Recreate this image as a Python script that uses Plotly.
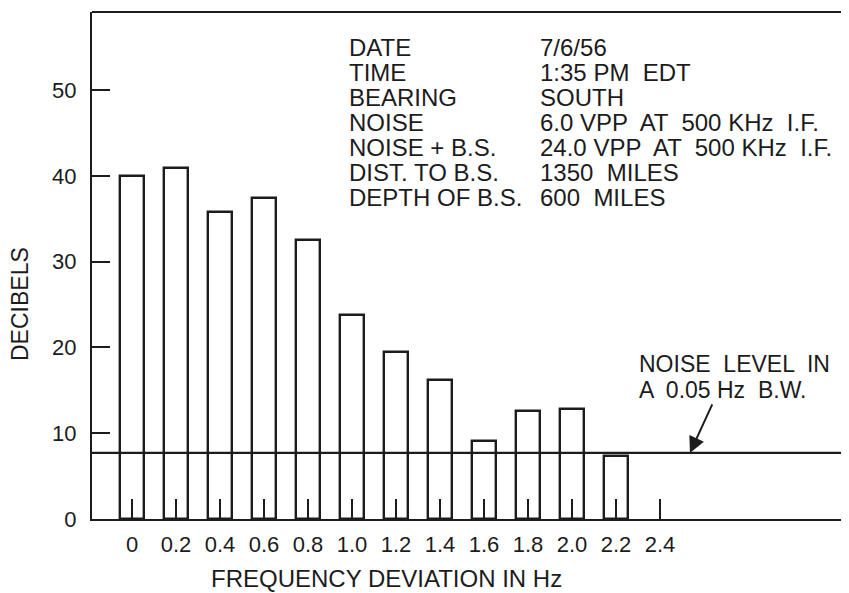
import plotly.graph_objects as go

# ---- data ----
freq_hz = [0.0, 0.2, 0.4, 0.6, 0.8, 1.0, 1.2, 1.4, 1.6, 1.8, 2.0, 2.2]
decibels = [40.0, 40.9, 35.8, 37.4, 32.5, 23.8, 19.5, 16.2, 9.1, 12.6, 12.8, 7.4]
noise_level_db = 7.7
x_tick_vals = [0.0, 0.2, 0.4, 0.6, 0.8, 1.0, 1.2, 1.4, 1.6, 1.8, 2.0, 2.2, 2.4]
x_tick_text = ["0", "0.2", "0.4", "0.6", "0.8", "1.0", "1.2", "1.4", "1.6", "1.8", "2.0", "2.2", "2.4"]
y_tick_vals = [0, 10, 20, 30, 40, 50]
info_labels = ["DATE", "TIME", "BEARING", "NOISE", "NOISE + B.S.", "DIST. TO B.S.", "DEPTH OF B.S."]
info_values = ["7/6/56", "1:35 PM  EDT", "SOUTH", "6.0 VPP  AT  500 KHz  I.F.",
               "24.0 VPP  AT  500 KHz  I.F.", "1350  MILES", "600  MILES"]

INK = "#1c1c1c"
FONT = "Liberation Sans"

# page body has an 8px default margin; compensate so the figure fills the 849x593 window
OFF = 8
W, H = 849 - OFF, 593 - OFF
ML, MR, MT, MB = 92 - OFF, 0, 12 - OFF, 593 - 519
PW, PH = W - ML - MR, H - MT - MB


def px(xw):
    """window x pixel -> paper x"""
    return (xw - OFF - ML) / PW


def py(yw):
    """window y pixel -> paper y"""
    return (H - MB - (yw - OFF)) / PH


fig = go.Figure()
fig.add_trace(go.Bar(
    x=freq_hz, y=decibels, width=0.105,
    marker=dict(color="white", line=dict(color=INK, width=2.4)),
    showlegend=False, hoverinfo="skip",
))

fig.update_layout(
    width=W, height=H,
    margin=dict(l=ML, r=MR, t=MT, b=MB),
    paper_bgcolor="white", plot_bgcolor="white",
    font=dict(family=FONT, color=INK, size=22),
    bargap=0,
    xaxis=dict(
        range=[-0.182, 3.259], tickvals=x_tick_vals, ticktext=x_tick_text,
        ticks="inside", ticklen=20, tickwidth=2, tickcolor=INK,
        showline=True, linecolor=INK, linewidth=2.2,
        showgrid=False, zeroline=False,
        tickfont=dict(size=22, family=FONT, color=INK),
        ticklabelstandoff=4,
    ),
    yaxis=dict(
        range=[0, 59.1], tickvals=y_tick_vals,
        ticks="inside", ticklen=18, tickwidth=2, tickcolor=INK,
        showline=True, linecolor=INK, linewidth=2.2,
        showgrid=False, zeroline=False,
        tickfont=dict(size=22, family=FONT, color=INK),
        ticklabelstandoff=9,
    ),
)

# top frame line
fig.add_shape(type="line", xref="paper", yref="paper", x0=0, x1=1, y0=1, y1=1,
              line=dict(color=INK, width=2.2))
# noise level line
fig.add_shape(type="line", xref="x domain", yref="y", x0=0, x1=1,
              y0=noise_level_db, y1=noise_level_db,
              line=dict(color=INK, width=2.2), layer="above")

# axis titles
fig.add_annotation(text="DECIBELS", xref="paper", yref="paper", x=px(20), y=py(304),
                   xanchor="center", yanchor="middle",
                   textangle=-90, showarrow=False, font=dict(size=23))
fig.add_annotation(text="FREQUENCY DEVIATION IN Hz", xref="paper", yref="paper",
                   x=px(386), y=py(578), xanchor="center", yanchor="middle",
                   showarrow=False, font=dict(size=24))

# info block
row0, dy = 47, 25.1
for i, (lab, val) in enumerate(zip(info_labels, info_values)):
    yy = py(row0 + i * dy)
    fig.add_annotation(text=lab, xref="paper", yref="paper", x=px(347), y=yy,
                       xanchor="left", yanchor="middle", showarrow=False, font=dict(size=24))
    fig.add_annotation(text=val, xref="paper", yref="paper", x=px(538), y=yy,
                       xanchor="left", yanchor="middle", showarrow=False, font=dict(size=24))

# noise level label + arrow
fig.add_annotation(text="NOISE  LEVEL  IN", xref="paper", yref="paper", x=px(637), y=py(364),
                   xanchor="left", yanchor="middle", showarrow=False, font=dict(size=23))
fig.add_annotation(text="A  0.05 Hz  B.W.", xref="paper", yref="paper", x=px(637), y=py(390),
                   xanchor="left", yanchor="middle", showarrow=False, font=dict(size=23))
fig.add_annotation(x=2.536, y=noise_level_db, xref="x", yref="y", text="",
                   showarrow=True, ax=23, ay=-50, arrowhead=2, arrowsize=1.6,
                   arrowwidth=2, arrowcolor=INK, standoff=0)

fig.write_html("out.html")
